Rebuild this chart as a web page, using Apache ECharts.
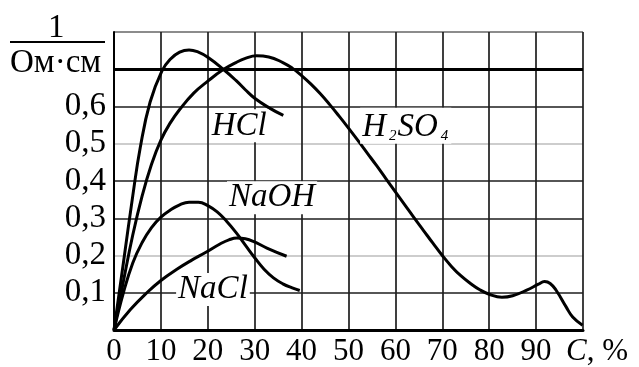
<!DOCTYPE html>
<html>
<head>
<meta charset="utf-8">
<script src="https://cdn.jsdelivr.net/npm/echarts@6/dist/echarts.min.js"></script>
<style>
  html, body { margin: 0; padding: 0; background: #fff; }
  #chart { width: 639px; height: 367px; }
</style>
</head>
<body>
<div id="chart"></div>
<script>
// Electrical conductivity of aqueous solutions vs. concentration C, %
// Each series: [C, conductivity 1/(Ом·см)]
const hclData = [
  [0, 0], [2, 0.18], [4, 0.36], [5.6, 0.49], [7.7, 0.612], [10.2, 0.695],
  [12, 0.727], [14, 0.746], [16, 0.752], [18, 0.746], [20, 0.732],
  [23.3, 0.70], [26, 0.67], [28, 0.645], [30, 0.622], [33, 0.597], [36.1, 0.576]
];
const h2so4Data = [
  [0, 0], [2, 0.13], [4, 0.255], [6, 0.36], [8, 0.445], [10, 0.51],
  [12, 0.556], [14, 0.592], [17, 0.636], [20, 0.668], [23.3, 0.699],
  [26, 0.718], [28, 0.729], [30.4, 0.736], [33, 0.733], [36, 0.718],
  [38, 0.703], [40, 0.683], [42, 0.66], [44, 0.634], [46, 0.605],
  [48, 0.574], [50, 0.542], [52, 0.509], [54, 0.475], [56, 0.441],
  [58, 0.406], [60, 0.371], [62, 0.336], [64, 0.301], [66, 0.267],
  [68, 0.233], [70, 0.2], [72, 0.17], [74, 0.145], [76, 0.125],
  [78, 0.108], [80, 0.096], [82.7, 0.088], [85, 0.092], [88, 0.107],
  [90.5, 0.123], [91.8, 0.13], [93, 0.125], [94.3, 0.106], [96.4, 0.062],
  [97.8, 0.035], [99.9, 0.013]
];
const naohData = [
  [0, 0], [2, 0.1], [4, 0.18], [6, 0.235], [8, 0.275], [10, 0.303],
  [12, 0.322], [14, 0.336], [16, 0.343], [18, 0.343], [20, 0.334],
  [22, 0.317], [24, 0.292], [26, 0.262], [28, 0.228], [30, 0.194],
  [32, 0.163], [34, 0.14], [36, 0.124], [38, 0.113], [39.6, 0.106]
];
const naclData = [
  [0, 0], [3.5, 0.055], [7, 0.1], [10, 0.133], [13.4, 0.163], [16.5, 0.187],
  [19.5, 0.208], [22.6, 0.231], [24.5, 0.242], [26.2, 0.247], [28, 0.245],
  [29.7, 0.238], [32.6, 0.22], [36.8, 0.198]
];

// Curve captions and where they sit, in data coordinates
const seriesNames = ['HCl', 'H2SO4', 'NaOH', 'NaCl'];
const captionPos = {
  HCl: [26.7, 0.548],
  H2SO4: [62.2, 0.548],
  NaOH: [33.7, 0.355],
  NaCl: [21.1, 0.109]
};

// Axis scales and tick labels
const xTicks = [0, 10, 20, 30, 40, 50, 60, 70, 80, 90];
const yTicks = ['0,1', '0,2', '0,3', '0,4', '0,5', '0,6'];
const xTitle = 'C';
const yTitleTop = '1';
const yTitleBottom = 'Ом·см';

const SERIF = '"Liberation Serif", "DejaVu Serif", serif';

const chart = echarts.init(document.getElementById('chart'), null, { renderer: 'canvas' });

const curveStyle = { color: '#000', width: 3 };
function curve(name, data, extra) {
  return Object.assign({
    name: name,
    type: 'line',
    data: data,
    smooth: 0.45,
    showSymbol: false,
    symbol: 'none',
    silent: true,
    lineStyle: curveStyle,
    z: 5
  }, extra || {});
}

const option = {
  backgroundColor: '#fff',
  animation: false,
  grid: { left: 114, right: 56, top: 32, bottom: 34 },
  xAxis: {
    type: 'value',
    min: 0, max: 100, interval: 10,
    axisLine: { show: true, lineStyle: { color: '#000', width: 3 } },
    axisTick: { show: false },
    axisLabel: {
      margin: 6,
      color: '#000',
      fontFamily: SERIF,
      fontSize: 31,
      formatter: v => (xTicks.indexOf(Math.round(v)) >= 0 ? String(Math.round(v)) : '')
    },
    splitLine: { show: true, lineStyle: { color: '#1e1e1e', width: 1.7 } }
  },
  yAxis: {
    type: 'value',
    min: 0, max: 0.8, interval: 0.1,
    axisLine: { show: true, lineStyle: { color: '#000', width: 2 } },
    axisTick: { show: false },
    axisLabel: {
      margin: 8,
      color: '#000',
      fontFamily: SERIF,
      fontSize: 33,
      formatter: v => {
        const i = Math.round(v * 10) - 1;
        return (i >= 0 && i < yTicks.length) ? yTicks[i] : '';
      }
    },
    splitLine: {
      show: true,
      lineStyle: {
        color: ['#000', '#1e1e1e', '#bdbdbd', '#1e1e1e', '#1e1e1e', '#bdbdbd', '#1e1e1e', '#000', '#666'],
        width: 1.7
      }
    }
  },
  series: [
    curve('HCl', hclData, {
      markLine: {
        silent: true,
        symbol: 'none',
        label: { show: false },
        lineStyle: { color: '#000', width: 3, type: 'solid' },
        data: [{ yAxis: 0.7 }]
      }
    }),
    curve('H2SO4', h2so4Data),
    curve('NaOH', naohData),
    curve('NaCl', naclData)
  ]
};

chart.setOption(option);

// Captions and axis titles, placed through the chart's coordinate system
const captionFont = { fontFamily: SERIF, fontSize: 33, fontStyle: 'italic', fill: '#000' };
const captions = seriesNames.map(name => {
  const p = chart.convertToPixel({ gridIndex: 0 }, captionPos[name]);
  const base = {
    type: 'text',
    x: p[0], y: p[1],
    z: 20,
    style: Object.assign({
      align: 'center',
      verticalAlign: 'middle',
      backgroundColor: '#fff',
      padding: [0, 2, 0, 2]
    }, captionFont)
  };
  if (name === 'H2SO4') {
    base.style.text = '{a|H}{s|2}{a|SO}{s|4}';
    base.style.rich = {
      a: { fontFamily: SERIF, fontSize: 33, fontStyle: 'italic', verticalAlign: 'bottom', lineHeight: 36 },
      s: { fontFamily: SERIF, fontSize: 15, fontStyle: 'italic', verticalAlign: 'bottom', lineHeight: 30, padding: [0, 1, 0, 3] }
    };
  } else {
    base.style.text = name;
  }
  return base;
});

const originPx = chart.convertToPixel({ gridIndex: 0 }, [0, 0]);
const xEndPx = chart.convertToPixel({ gridIndex: 0 }, [100, 0]);
const topPx = chart.convertToPixel({ gridIndex: 0 }, [0, 0.8]);

chart.setOption({
  graphic: captions.concat([
    {
      type: 'text',
      left: 48, top: topPx[1] - 20,
      style: { text: yTitleTop, fontFamily: SERIF, fontSize: 33, fill: '#000' }
    },
    {
      type: 'line',
      shape: { x1: 10, y1: 42, x2: 105, y2: 42 },
      style: { stroke: '#000', lineWidth: 2 }
    },
    {
      type: 'text',
      left: 10, top: 47,
      style: { text: yTitleBottom, fontFamily: SERIF, fontSize: 33, fill: '#000' }
    },
    {
      type: 'text',
      x: xEndPx[0] - 17, y: originPx[1] + 6,
      style: {
        text: '{i|' + xTitle + '}{n|, %}',
        rich: {
          i: { fontFamily: SERIF, fontSize: 31, fontStyle: 'italic', fill: '#000' },
          n: { fontFamily: SERIF, fontSize: 31, fill: '#000' }
        }
      }
    }
  ])
});
</script>
</body>
</html>
